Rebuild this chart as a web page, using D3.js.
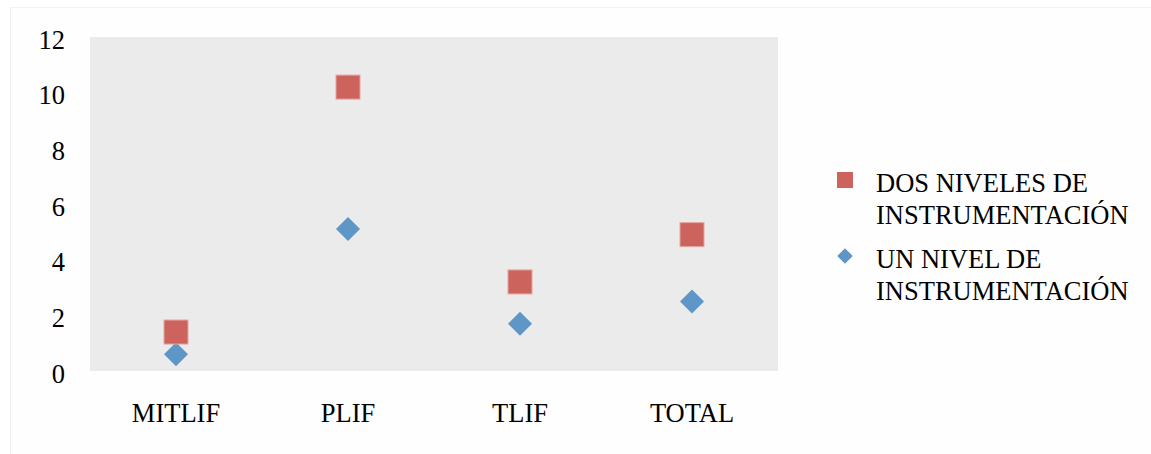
<!DOCTYPE html>
<html>
<head>
<meta charset="utf-8">
<script src="https://cdn.jsdelivr.net/npm/d3@7"></script>
<style>
  html, body { margin: 0; padding: 0; background: #ffffff; }
  svg { display: block; }
</style>
</head>
<body>
<svg id="chart" width="1151" height="454"></svg>
<script>
// Procedure categories
const categories = ["MITLIF", "PLIF", "TLIF", "TOTAL"];
// Series values
const dosNiveles = [1.4, 10.2, 3.2, 4.9];
const unNivel = [0.6, 5.1, 1.7, 2.5];
// Y-axis ticks
const yTicks = [0, 2, 4, 6, 8, 10, 12];

const seriesLines = [["DOS NIVELES DE", "INSTRUMENTACIÓN"], ["UN NIVEL DE", "INSTRUMENTACIÓN"]];

const FONT = '"Liberation Serif", "Times New Roman", serif';
const FS = 26.5;

const svg = d3.select("#chart");

// chart area background with faint top/left edge
svg.append("rect")
  .attr("x", 10).attr("y", 7)
  .attr("width", 1141).attr("height", 447)
  .attr("fill", "#fefefe");
svg.append("path")
  .attr("d", "M10.5,454V7.5H1151")
  .attr("fill", "none")
  .attr("stroke", "#f2f2f2");

const plot = { left: 90, right: 778, top: 37, bottom: 371 };

const x = d3.scaleBand().domain(categories).range([plot.left, plot.right]);
const y = d3.scaleLinear().domain([0, 12]).range([plot.bottom, plot.top]);

// plot background
svg.append("rect")
  .attr("x", plot.left).attr("y", plot.top)
  .attr("width", plot.right - plot.left).attr("height", plot.bottom - plot.top)
  .attr("fill", "#ebebeb");

// y axis labels
const yAxis = d3.axisLeft(y).tickValues(yTicks).tickSize(0).tickPadding(25);
const gy = svg.append("g").attr("transform", `translate(${plot.left},0)`).call(yAxis);
gy.attr("font-family", FONT).attr("font-size", FS);
gy.select(".domain").remove();
gy.selectAll("text").attr("fill", "#000").attr("dy", "0.42em");

// x axis labels
const xAxis = d3.axisBottom(x).tickSize(0).tickPadding(32);
const gx = svg.append("g").attr("transform", `translate(0,${plot.bottom})`).call(xAxis);
gx.attr("font-family", FONT).attr("font-size", FS);
gx.select(".domain").remove();
gx.selectAll("text").attr("fill", "#000");

const cx = d => x(d) + x.bandwidth() / 2;
const sq = 24;
const red = "#cd635d";
const blue = "#5f96c8";

// diamond markers: one level
svg.append("g").selectAll("path")
  .data(categories)
  .join("path")
  .attr("d", d3.symbol().type(d3.symbolSquare).size(17 * 17))
  .attr("transform", (d, i) => `translate(${cx(d)},${y(unNivel[i])}) rotate(45)`)
  .attr("fill", blue);

// square markers: two levels
svg.append("g").selectAll("rect")
  .data(categories)
  .join("rect")
  .attr("x", d => cx(d) - sq / 2)
  .attr("y", (d, i) => y(dosNiveles[i]) - sq / 2)
  .attr("width", sq).attr("height", sq)
  .attr("fill", red)
  .attr("stroke", "#e3a6a2").attr("stroke-width", 1);

// legend
const legend = svg.append("g").attr("font-family", FONT).attr("font-size", FS);
const legendY = [180, 256];
legend.append("rect")
  .attr("x", 837).attr("y", legendY[0] - 8)
  .attr("width", 16).attr("height", 16)
  .attr("fill", red);
legend.append("path")
  .attr("d", d3.symbol().type(d3.symbolSquare).size(11 * 11))
  .attr("transform", `translate(845,${legendY[1]}) rotate(45)`)
  .attr("fill", blue);

seriesLines.forEach((lines, i) => {
  const t = legend.append("text")
    .attr("x", 876)
    .attr("y", legendY[i] + 12);
  lines.forEach((ln, j) => {
    t.append("tspan").attr("x", 876).attr("dy", j === 0 ? 0 : 32).text(ln);
  });
});
</script>
</body>
</html>
